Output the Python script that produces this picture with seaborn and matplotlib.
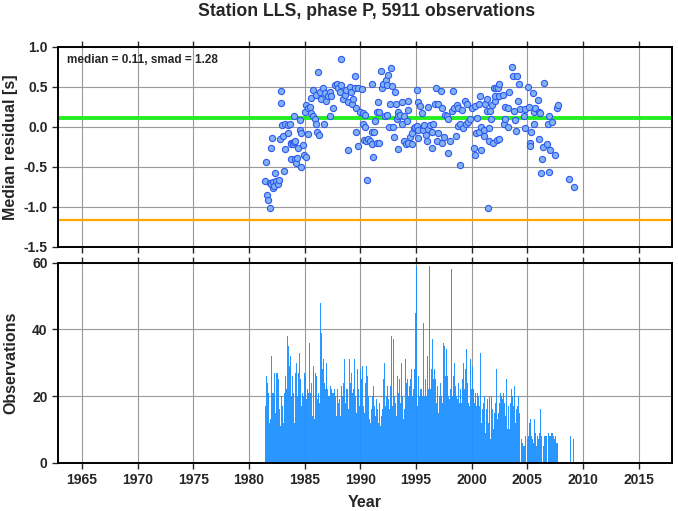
import numpy as np
import pandas as pd
import seaborn as sns
import matplotlib
matplotlib.use("Agg")
import matplotlib.pyplot as plt

# monthly median residuals (decimal year, seconds)
res_year = [
    1981.47, 1981.56, 1981.65, 1981.71, 1981.86, 1981.86, 1982.01, 1982.01, 1982.07, 1982.16,
    1982.16, 1982.25, 1982.31, 1982.46, 1982.61, 1982.67, 1982.76, 1982.85, 1982.91, 1982.97,
    1983.06, 1983.15, 1983.21, 1983.27, 1983.50, 1983.50, 1983.65, 1983.74, 1983.80, 1983.80,
    1983.95, 1984.04, 1984.04, 1984.10, 1984.16, 1984.25, 1984.34, 1984.40, 1984.55, 1984.55,
    1984.64, 1984.70, 1984.85, 1984.94, 1985.00, 1985.15, 1985.15, 1985.30, 1985.30, 1985.45,
    1985.60, 1985.60, 1985.75, 1985.75, 1985.90, 1986.05, 1986.05, 1986.14, 1986.20, 1986.29,
    1986.35, 1986.50, 1986.65, 1986.74, 1986.80, 1986.95, 1987.10, 1987.25, 1987.25, 1987.40,
    1987.55, 1987.70, 1987.94, 1988.00, 1988.15, 1988.24, 1988.30, 1988.45, 1988.65, 1988.74,
    1988.89, 1988.89, 1989.04, 1989.19, 1989.25, 1989.34, 1989.49, 1989.55, 1989.64, 1989.64,
    1989.79, 1989.79, 1989.94, 1990.15, 1990.24, 1990.24, 1990.33, 1990.39, 1990.45, 1990.54,
    1990.57, 1990.67, 1990.88, 1991.03, 1991.03, 1991.03, 1991.18, 1991.27, 1991.33, 1991.48,
    1991.48, 1991.63, 1991.69, 1991.69, 1991.87, 1991.93, 1992.08, 1992.23, 1992.29, 1992.38,
    1992.38, 1992.53, 1992.59, 1992.68, 1992.77, 1992.83, 1992.98, 1993.06, 1993.12, 1993.18,
    1993.27, 1993.36, 1993.42, 1993.42, 1993.57, 1993.72, 1993.72, 1993.96, 1993.96, 1994.08,
    1994.17, 1994.26, 1994.32, 1994.32, 1994.47, 1994.62, 1994.68, 1994.86, 1994.92, 1995.07,
    1995.07, 1995.16, 1995.22, 1995.22, 1995.37, 1995.52, 1995.67, 1995.76, 1995.88, 1995.97,
    1996.06, 1996.12, 1996.27, 1996.42, 1996.42, 1996.57, 1996.72, 1996.81, 1996.87, 1997.02,
    1997.02, 1997.26, 1997.32, 1997.38, 1997.56, 1997.62, 1997.77, 1997.86, 1997.92, 1998.07,
    1998.28, 1998.30, 1998.45, 1998.57, 1998.66, 1998.81, 1998.81, 1998.96, 1998.96, 1999.11,
    1999.26, 1999.41, 1999.47, 1999.56, 1999.71, 1999.86, 2000.01, 2000.19, 2000.28, 2000.34,
    2000.40, 2000.49, 2000.64, 2000.70, 2000.79, 2000.88, 2000.88, 2001.09, 2001.09, 2001.18,
    2001.39, 2001.39, 2001.45, 2001.54, 2001.60, 2001.69, 2001.78, 2001.84, 2001.90, 2001.99,
    2002.08, 2002.14, 2002.20, 2002.29, 2002.38, 2002.44, 2002.44, 2002.50, 2002.79, 2002.88,
    2002.97, 2003.03, 2003.27, 2003.27, 2003.39, 2003.63, 2003.69, 2003.78, 2003.87, 2003.99,
    2004.08, 2004.17, 2004.23, 2004.38, 2004.68, 2004.77, 2004.83, 2005.07, 2005.13, 2005.28,
    2005.28, 2005.37, 2005.49, 2005.58, 2005.58, 2005.73, 2005.97, 2006.03, 2006.03, 2006.18,
    2006.27, 2006.33, 2006.39, 2006.48, 2006.78, 2006.87, 2006.93, 2006.99, 2007.08, 2007.23,
    2007.47, 2007.67, 2007.76, 2008.78, 2009.17,
]
res_value = [
    -0.68, -0.44, -0.85, -0.92, -1.01, -0.70, -0.26, -0.71, -0.14, -0.69,
    -0.77, -0.74, -0.58, -0.68, -0.71, -0.67, -0.15, 0.45, 0.30, 0.02,
    -0.12, -0.55, -0.28, 0.04, 0.02, -0.08, 0.04, -0.20, -0.22, -0.40,
    -0.21, -0.19, 0.13, -0.40, -0.18, -0.45, -0.39, -0.27, -0.04, 0.09,
    -0.08, -0.50, -0.23, -0.35, 0.19, 0.27, -0.38, 0.24, -0.09, 0.25,
    0.17, 0.36, 0.13, 0.46, 0.10, 0.04, 0.40, -0.06, 0.69, -0.10,
    0.44, 0.35, 0.48, 0.04, 0.42, 0.32, 0.38, 0.44, 0.13, 0.38,
    0.23, 0.52, 0.54, 0.48, 0.44, 0.85, 0.52, 0.35, 0.40, 0.46,
    0.31, -0.29, 0.50, 0.44, 0.29, 0.35, 0.63, 0.48, 0.23, -0.06,
    0.48, -0.24, 0.19, 0.47, 0.17, 0.04, -0.17, 0.00, 0.15, -0.18,
    -0.66, -0.15, -0.18, -0.22, -0.06, 0.53, -0.38, -0.06, 0.07, 0.19,
    -0.20, 0.31, 0.18, -0.20, 0.70, 0.48, 0.53, 0.13, 0.58, 0.52,
    0.15, 0.65, 0.00, 0.28, 0.73, 0.51, 0.00, -0.13, 0.44, 0.28,
    0.10, -0.28, 0.19, 0.13, 0.15, 0.31, 0.04, 0.13, -0.18, -0.21,
    0.07, 0.21, 0.32, -0.20, -0.13, -0.08, -0.21, -0.01, 0.00, 0.46,
    0.01, -0.14, 0.31, -0.04, 0.26, 0.17, -0.04, 0.02, -0.10, -0.18,
    0.25, -0.03, 0.02, -0.07, -0.27, 0.03, 0.29, 0.48, -0.18, 0.29,
    -0.08, 0.45, -0.20, 0.24, -0.13, 0.15, 0.14, -0.33, 0.10, -0.18,
    0.20, 0.45, 0.24, -0.11, 0.27, 0.23, 0.01, 0.04, -0.48, 0.21,
    -0.02, 0.32, 0.04, 0.29, 0.06, 0.10, 0.23, -0.26, -0.35, 0.26,
    -0.08, 0.11, -0.06, 0.28, 0.38, 0.00, -0.29, -0.04, -0.12, 0.29,
    0.35, 0.20, -1.01, -0.18, -0.01, 0.20, 0.10, 0.27, -0.20, 0.49,
    0.32, 0.39, 0.48, -0.17, 0.48, 0.54, 0.38, -0.15, 0.40, 0.03,
    0.10, 0.25, 0.23, 0.00, 0.43, 0.75, 0.63, 0.20, 0.08, -0.05,
    0.63, 0.32, 0.53, 0.22, 0.14, -0.01, 0.22, 0.50, 0.25, -0.20,
    -0.24, -0.07, 0.42, 0.18, 0.04, 0.24, 0.33, 0.18, -0.15, 0.17,
    -0.58, -0.40, -0.25, 0.55, -0.21, 0.04, 0.14, -0.57, -0.29, 0.06,
    -0.35, 0.23, 0.27, -0.65, -0.75,
]

median_res = 0.11
smad_res = 1.28

# observations per month, June 1981 .. March 2009
first_month = 1981 + 5 / 12
monthly_counts = [
    17, 26, 16, 24, 21, 12, 13,                              # 1981
    32, 21, 21, 27, 15, 27, 27, 25, 16, 12, 11, 20,          # 1982
    17, 12, 21, 26, 22, 38, 35, 29, 32, 20, 26, 17,          # 1983
    21, 12, 27, 30, 20, 27, 33, 25, 17, 21, 20, 27,          # 1984
    17, 26, 19, 22, 21, 36, 21, 24, 14, 29, 13, 27,          # 1985
    26, 19, 23, 21, 18, 48, 39, 28, 31, 24, 22, 30,          # 1986
    22, 20, 20, 23, 20, 22, 21, 21, 22, 20, 14, 22,          # 1987
    18, 19, 14, 23, 20, 24, 17, 31, 18, 22, 22, 16,          # 1988
    31, 24, 27, 21, 22, 31, 20, 15, 19, 28, 22, 17,          # 1989
    28, 25, 29, 17, 15, 24, 29, 26, 20, 13, 24, 12,          # 1990
    16, 20, 23, 17, 14, 19, 16, 12, 18, 11, 14, 16,          # 1991
    13, 25, 30, 17, 20, 23, 19, 16, 23, 38, 17, 37,          # 1992
    20, 22, 18, 14, 26, 21, 25, 18, 30, 20, 13, 16,          # 1993
    31, 24, 25, 16, 20, 23, 25, 28, 20, 22, 28, 45,          # 1994
    59, 17, 26, 20, 22, 25, 22, 20, 42, 20, 25, 20,          # 1995
    32, 22, 59, 22, 28, 37, 25, 45, 28, 25, 18, 23,          # 1996
    15, 20, 24, 20, 18, 36, 35, 26, 34, 24, 26, 20,          # 1997
    19, 22, 58, 20, 26, 30, 23, 20, 19, 24, 18, 17,          # 1998
    22, 18, 25, 30, 22, 28, 34, 24, 18, 17, 31, 22,          # 1999
    35, 29, 22, 18, 21, 17, 21, 20, 17, 33, 12, 16,          # 2000
    18, 20, 17, 9, 16, 19, 12, 20, 7, 20, 16, 10,            # 2001
    15, 18, 28, 13, 11, 15, 18, 21, 20, 19, 21, 18,          # 2002
    14, 25, 10, 17, 10, 18, 15, 22, 20, 17, 23, 12,          # 2003
    16, 17, 20, 15, 0, 7, 6, 5, 0, 5, 8, 0,                  # 2004
    7, 8, 12, 13, 8, 7, 6, 13, 9, 5, 0, 8,                   # 2005
    7, 9, 16, 8, 0, 5, 8, 8, 8, 0, 9, 8,                     # 2006
    8, 8, 9, 9, 8, 7, 8, 6, 6, 0, 0, 0,                      # 2007
    0, 0, 0, 0, 0, 0, 0, 0, 0, 0, 8, 0,                      # 2008
    0, 7, 0,                                                 # 2009
]

year_ticks = [1965, 1970, 1975, 1980, 1985, 1990, 1995, 2000, 2005, 2010, 2015]
res_ticks = [1.0, 0.5, 0.0, -0.5, -1.0, -1.5]
obs_ticks = [0, 20, 40, 60]

res_df = pd.DataFrame({"year": res_year, "residual": res_value})
n_months = len(monthly_counts)
obs_df = pd.DataFrame({"month": first_month + (np.arange(n_months) + 0.5) / 12,
                       "count": monthly_counts})

sns.set_style("white")
plt.rcParams["font.family"] = ["Liberation Sans", "DejaVu Sans"]
plt.rcParams["font.weight"] = "bold"
plt.rcParams["axes.unicode_minus"] = False

fig = plt.figure(figsize=(6.78, 5.11), dpi=100)
ax1 = fig.add_axes([0.0855, 0.5172, 0.9056, 0.3914])
ax2 = fig.add_axes([0.0855, 0.0945, 0.9056, 0.3914])

grid_kw = dict(color="#999999", linewidth=0.8)
for ax in (ax1, ax2):
    ax.set_xlim(1962.85, 2018.0)
    ax.set_xticks(year_ticks)
    ax.grid(True, **grid_kw)
    ax.set_axisbelow(True)
    for sp in ax.spines.values():
        sp.set_linewidth(1.4)
        sp.set_color("black")
    ax.tick_params(axis="both", direction="out", length=4, width=1, labelsize=10,
                   top=True, bottom=True, left=True, right=False)

# top panel: residuals
ax1.axhline(median_res, color="#22ee22", linewidth=2.8, zorder=2)
ax1.axhline(median_res - smad_res, color="#ffa500", linewidth=1.6, zorder=2)
sns.scatterplot(data=res_df, x="year", y="residual", ax=ax1, s=20,
                color="#80b2f2", edgecolor="#2f58f0", linewidth=0.8, zorder=3)
ax1.set_ylim(-1.5, 1.0)
ax1.set_yticks(res_ticks)
ax1.set_yticklabels([f"{t:.1f}" for t in res_ticks])
ax1.set_xticklabels([])
ax1.set_xlabel("")
ax1.set_ylabel("Median residual [s]", fontsize=11.5, fontweight="bold")
ax1.yaxis.set_label_coords(-0.065, 0.5)
ax1.text(0.014, 0.965, f"median = {median_res:.2f}, smad = {smad_res:.2f}",
         transform=ax1.transAxes, ha="left", va="top", fontsize=8.5, fontweight="bold")

# bottom panel: observations per month
sns.histplot(data=obs_df, x="month", weights="count", binwidth=1 / 12,
             binrange=(first_month, first_month + n_months / 12), ax=ax2,
             color="#1E90FF", alpha=0.95, edgecolor="none", zorder=2)
ax2.set_ylim(0, 60)
ax2.set_yticks(obs_ticks)
ax2.set_xticklabels([str(t) for t in year_ticks])
ax2.set_xlabel("Year", fontsize=11.5, fontweight="bold", labelpad=6)
ax2.set_ylabel("Observations", fontsize=11.5, fontweight="bold")
ax2.yaxis.set_label_coords(-0.065, 0.5)

fig.text(0.541, 0.978, "Station LLS, phase P, 5911 observations",
         ha="center", va="center", fontsize=12.7, fontweight="bold")

fig.savefig("out.png", dpi=100)
